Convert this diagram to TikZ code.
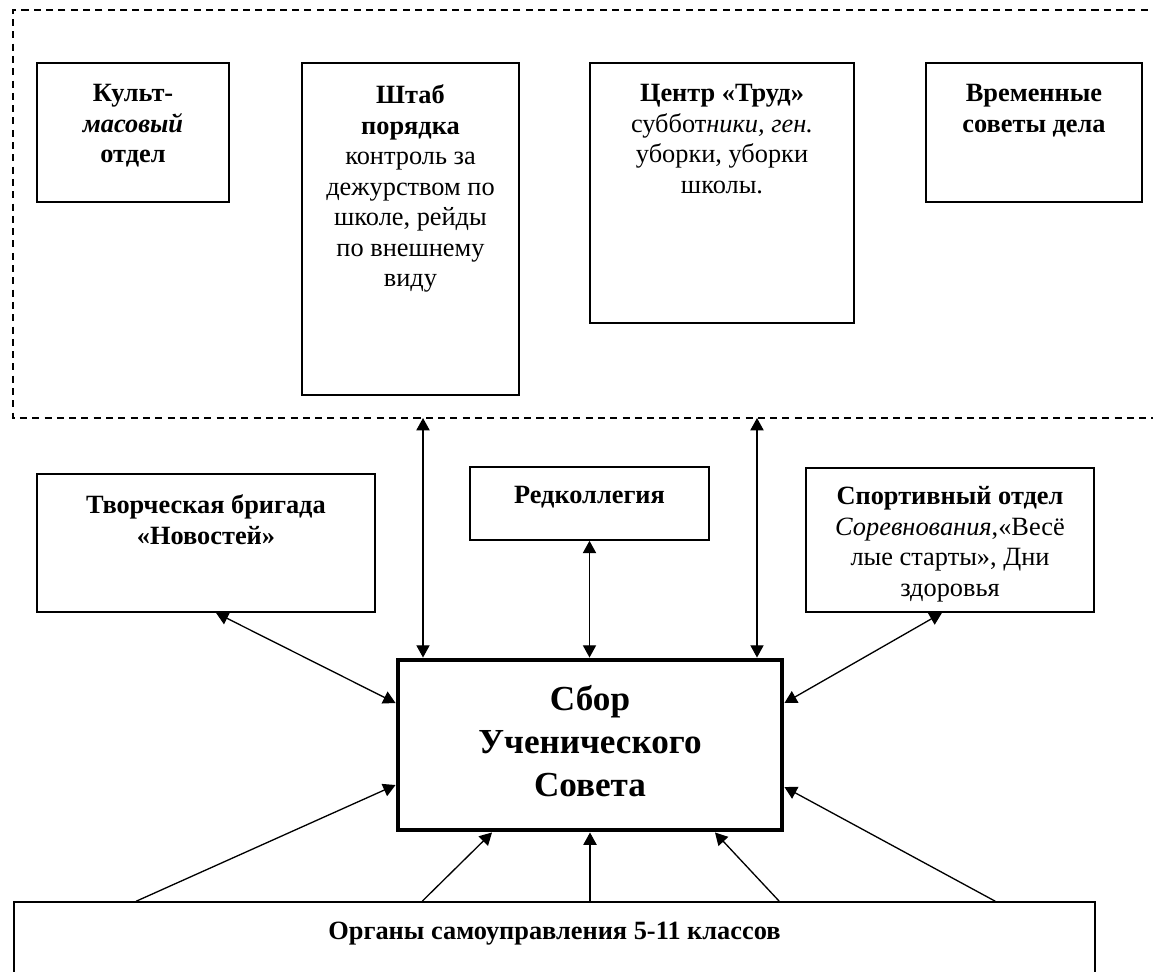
\documentclass[tikz,border=0pt]{standalone}
\usepackage{fontspec}
\setmainfont{Liberation Serif}
\usetikzlibrary{arrows.meta,fit,calc}

\begin{document}
\begin{tikzpicture}[x=0.02cm,y=-0.02cm,
	box/.style={draw,line width=0.9pt,inner sep=0pt},
	txt/.style={anchor=north,align=center,inner sep=0pt,font=\fontsize{15}{17.4}\selectfont},
	link/.style={line width=0.75pt,-{Triangle[length=7pt,width=7.5pt]}},
	both/.style={line width=0.75pt,{Triangle[length=7pt,width=7.5pt]}-{Triangle[length=7pt,width=7.5pt]}}]
		\useasboundingbox (0,0) rectangle (1153,971);
		\clip (0,0) rectangle (1153,971);
		% dashed frame, open to the right
		\draw[line width=1.2pt,dash pattern=on 4pt off 3pt] (1160,10)--(13,10)--(13,418)--(1160,418);
		\coordinate (d1) at (423,418);
		\coordinate (d3) at (757,418);
		% upper row
		\node[box,fit={(37,63) (229,202)}] (kult) {};
		\node[box,fit={(302,63) (519,395)}] (shtab) {};
		\node[box,fit={(590,63) (854,323)}] (trud) {};
		\node[box,fit={(926,63) (1142,202)}] (vrem) {};
		\node[txt] (kult-t) at ($(kult.north)+(0,22)$) {\textbf{Культ-}\\\textbf{\textit{масовый}}\\\textbf{отдел}};
		\node[txt] (shtab-t) at ($(shtab.north)+(0,22)$) {\textbf{Штаб}\\\textbf{порядка}\\контроль за\\дежурством по\\школе, рейды\\по внешнему\\виду};
		\node[txt] (trud-t) at ($(trud.north)+(0,22)$) {\textbf{Центр «Труд»}\\суббот\textit{ники, ген.}\\уборки, уборки\\школы.};
		\node[txt] (vrem-t) at ($(vrem.north)+(0,22)$) {\textbf{Временные}\\\textbf{советы дела}};
		% middle row
		\node[box,fit={(37,474) (375,612)}] (tvor) {};
		\node[box,fit={(470,467) (709,540)}] (red) {};
		\node[box,fit={(806,468) (1094,612)}] (sport) {};
		\node[txt] (tvor-t) at ($(tvor.north)+(0,21)$) {\textbf{Творческая бригада}\\\textbf{«Новостей»}};
		\node[txt] (red-t) at ($(red.north)+(0,20)$) {\textbf{Редколлегия}};
		\node[txt] (sport-t) at ($(sport.north)+(0,19)$) {\textbf{Спортивный отдел}\\\textit{Соревнования},«Весё\\лые старты», Дни\\здоровья};
		% centre and bottom
		\node[box,line width=2.8pt,fit={(398,660) (782,830)}] (sbor) {};
		\node[txt,font=\fontsize{20}{24.5}\selectfont\bfseries] (sbor-t) at ($(sbor.north)+(0,27)$) {Сбор\\Ученического\\Совета};
		\node[box,fit={(14,902) (1095,1000)}] (org) {};
		\node[txt] (org-t) at ($(org.north)+(0,20)$) {\textbf{Органы самоуправления 5-11 классов}};
		% links
		\draw[both] (d1) -- (d1 |- sbor.north);
		\draw[both] (red.south) -- (red.south |- sbor.north);
		\draw[both] (d3) -- (d3 |- sbor.north);
		\draw[both] ($(tvor.south)+(10,0)$) -- ($(sbor.west)+(0,-42)$);
		\draw[both] ($(sport.south)+(-8,0)$) -- ($(sbor.east)+(0,-42)$);
		\draw[link] ($(org.north west)+(123,0)$) -- ($(sbor.west)+(0,40)$);
		\draw[link] ($(org.north west)+(409,0)$) -- ($(sbor.south)+(-98,0)$);
		\draw[link] (sbor.south |- org.north) -- (sbor.south);
		\draw[link] ($(org.north west)+(766,0)$) -- ($(sbor.south)+(125,0)$);
		\draw[link] ($(org.north west)+(982,0)$) -- ($(sbor.east)+(0,42)$);
	\end{tikzpicture}
\end{document}
